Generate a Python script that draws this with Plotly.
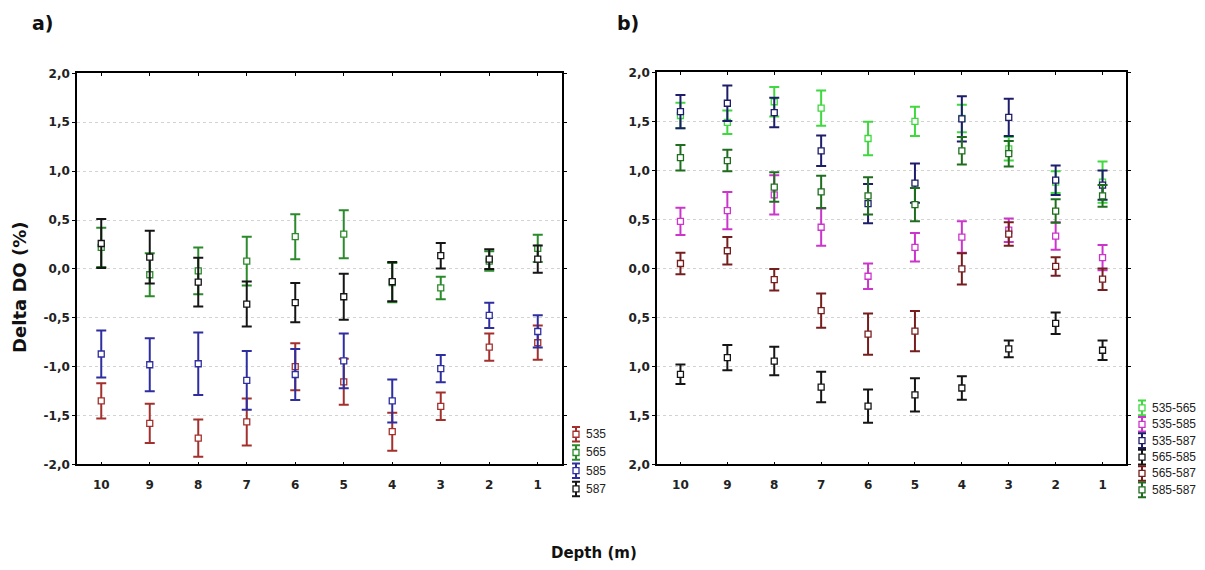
import plotly.graph_objects as go

# Depth categories (m), shown from 10 on the left to 1 on the right
depths = [10, 9, 8, 7, 6, 5, 4, 3, 2, 1]

# Panel a) mean Delta DO (%) and error half-widths per sensor
a_535 = [-1.35, -1.58, -1.73, -1.565, -1.0, -1.155, -1.665, -1.405, -0.80, -0.755]
a_535_err = [0.18, 0.20, 0.19, 0.24, 0.24, 0.235, 0.195, 0.14, 0.14, 0.175]
a_565 = [0.22, -0.06, -0.02, 0.08, 0.33, 0.355, -0.14, -0.195, 0.08, 0.21]
a_565_err = [0.20, 0.22, 0.24, 0.25, 0.23, 0.245, 0.20, 0.115, 0.10, 0.14]
a_585 = [-0.87, -0.98, -0.97, -1.14, -1.08, -0.94, -1.35, -1.02, -0.475, -0.64]
a_585_err = [0.24, 0.27, 0.32, 0.30, 0.26, 0.28, 0.22, 0.14, 0.13, 0.165]
a_587 = [0.26, 0.12, -0.135, -0.36, -0.345, -0.285, -0.13, 0.135, 0.10, 0.10]
a_587_err = [0.25, 0.27, 0.25, 0.23, 0.20, 0.235, 0.20, 0.13, 0.10, 0.14]

# Panel b) mean differences between sensor pairs
b_535_565 = [1.56, 1.49, 1.70, 1.635, 1.325, 1.50, 1.53, 1.22, 0.88, 0.88]
b_535_565_err = [0.13, 0.12, 0.15, 0.18, 0.17, 0.15, 0.14, 0.12, 0.11, 0.21]
b_535_585 = [0.48, 0.59, 0.75, 0.42, -0.08, 0.215, 0.32, 0.39, 0.33, 0.11]
b_535_585_err = [0.14, 0.19, 0.20, 0.19, 0.13, 0.145, 0.16, 0.12, 0.14, 0.13]
b_535_587 = [1.60, 1.685, 1.59, 1.20, 0.66, 0.87, 1.525, 1.54, 0.90, 0.85]
b_535_587_err = [0.17, 0.18, 0.15, 0.155, 0.20, 0.20, 0.23, 0.19, 0.15, 0.15]
b_565_585 = [-1.08, -0.91, -0.945, -1.21, -1.405, -1.29, -1.22, -0.82, -0.56, -0.835]
b_565_585_err = [0.10, 0.13, 0.145, 0.155, 0.17, 0.17, 0.12, 0.085, 0.11, 0.10]
b_565_587 = [0.05, 0.18, -0.115, -0.43, -0.67, -0.64, -0.005, 0.35, 0.02, -0.11]
b_565_587_err = [0.11, 0.14, 0.11, 0.175, 0.21, 0.205, 0.16, 0.12, 0.095, 0.11]
b_585_587 = [1.13, 1.10, 0.83, 0.78, 0.74, 0.65, 1.20, 1.17, 0.585, 0.74]
b_585_587_err = [0.13, 0.11, 0.15, 0.165, 0.19, 0.17, 0.14, 0.13, 0.12, 0.11]

# Axis tick labels
y_ticks = [2.0, 1.5, 1.0, 0.5, 0.0, -0.5, -1.0, -1.5, -2.0]
a_ticktext = ["2,0", "1,5", "1,0", "0,5", "0,0", "-0,5", "-1,0", "-1,5", "-2,0"]
b_ticktext = ["2,0", "1,5", "1,0", "0,5", "0,0", "0,5", "1,0", "1,5", "2,0"]

a_series = [
    ("535", a_535, a_535_err, "#a3302c"),
    ("565", a_565, a_565_err, "#2b8a2b"),
    ("585", a_585, a_585_err, "#2e2ea0"),
    ("587", a_587, a_587_err, "#151515"),
]
b_series = [
    ("535-565", b_535_565, b_535_565_err, "#3fd83f"),
    ("535-585", b_535_585, b_535_585_err, "#cc35cc"),
    ("535-587", b_535_587, b_535_587_err, "#1d1d6b"),
    ("565-585", b_565_585, b_565_585_err, "#151515"),
    ("565-587", b_565_587, b_565_587_err, "#761e1e"),
    ("585-587", b_585_587, b_585_587_err, "#1f6e1f"),
]

W, H = 1205, 570
BOLD = "DejaVu Sans"
fig = go.Figure()


def add_series(series, xa, ya):
    for name, vals, errs, col in series:
        fig.add_trace(go.Scatter(
            x=depths, y=vals, mode="markers", name=name, xaxis=xa, yaxis=ya,
            showlegend=False,
            error_y=dict(type="data", array=errs, visible=True, color=col,
                         thickness=2, width=5),
            marker=dict(symbol="square", size=6, color="white",
                        line=dict(color=col, width=1.3)),
        ))


add_series(a_series, "x", "y")
add_series(b_series, "x2", "y2")


# Legends: error-bar glyph with a label, drawn on an overlay axis in paper units
def add_legend(series, x0, y_top, step, fsize):
    for i, (name, _, _, col) in enumerate(series):
        yp = 1 - (y_top + i * step) / H
        fig.add_trace(go.Scatter(
            x=[x0 / W], y=[yp], mode="markers", xaxis="x3", yaxis="y3",
            showlegend=False, hoverinfo="skip",
            error_y=dict(type="constant", value=7.5 / H, visible=True, color=col,
                         thickness=2, width=4),
            marker=dict(symbol="square", size=6, color="white",
                        line=dict(color=col, width=1.3)),
        ))
        fig.add_annotation(x=(x0 + 8) / W, y=yp, xref="paper", yref="paper",
                           text=name, showarrow=False, xanchor="left",
                           yanchor="middle",
                           font=dict(size=fsize, color="#222", family="Liberation Sans"))


add_legend(a_series, 576, 438, 18.7, 12)
add_legend(b_series, 1142, 411, 16.8, 12)

axis_common = dict(showline=True, linecolor="black", linewidth=1.5, mirror="ticks",
                   zeroline=False,
                   tickfont=dict(family=BOLD, size=12, color="#222", weight="bold"))

xcommon = dict(axis_common, type="linear", range=[10.5, 0.5], tickvals=depths,
               ticks="inside", ticklen=3, tickcolor="black", showgrid=False,
               ticklabelstandoff=8)

ycommon = dict(axis_common, range=[-2, 2], tickvals=y_ticks, ticks="outside",
               ticklen=3, tickcolor="black", showgrid=True, gridcolor="#d2d2d2",
               griddash="dot", gridwidth=1)

fig.update_layout(
    width=W, height=H, margin=dict(l=0, r=0, t=0, b=0),
    paper_bgcolor="white", plot_bgcolor="rgba(0,0,0,0)",
    xaxis=dict(xcommon, domain=[77 / W, 562 / W], anchor="y"),
    yaxis=dict(ycommon, domain=[1 - 469 / H, 1 - 68 / H], anchor="x",
               ticktext=a_ticktext),
    xaxis2=dict(xcommon, domain=[657 / W, 1126 / W], anchor="y2"),
    yaxis2=dict(ycommon, domain=[1 - 469 / H, 1 - 67 / H], anchor="x2",
                ticktext=b_ticktext),
    xaxis3=dict(domain=[0, 1], range=[0, 1], visible=False, anchor="y3",
                fixedrange=True),
    yaxis3=dict(domain=[0, 1], range=[0, 1], visible=False, anchor="x3",
                fixedrange=True),
)

title_font = dict(color="#111", family=BOLD, weight="bold")
fig.add_annotation(x=43 / W, y=1 - 16 / H, xref="paper", yref="paper", text="a)",
                   showarrow=False, xanchor="center", yanchor="middle",
                   font=dict(title_font, size=19))
fig.add_annotation(x=628 / W, y=1 - 16 / H, xref="paper", yref="paper", text="b)",
                   showarrow=False, xanchor="center", yanchor="middle",
                   font=dict(title_font, size=19))
fig.add_annotation(x=20 / W, y=1 - 288 / H, xref="paper", yref="paper",
                   text="Delta DO (%)", textangle=-90, showarrow=False,
                   xanchor="center", yanchor="middle", font=dict(title_font, size=18))
fig.add_annotation(x=594 / W, y=1 - 560 / H, xref="paper", yref="paper",
                   text="Depth (m)", showarrow=False, xanchor="center",
                   yanchor="middle", font=dict(title_font, size=15))

fig.write_html("out.html")
